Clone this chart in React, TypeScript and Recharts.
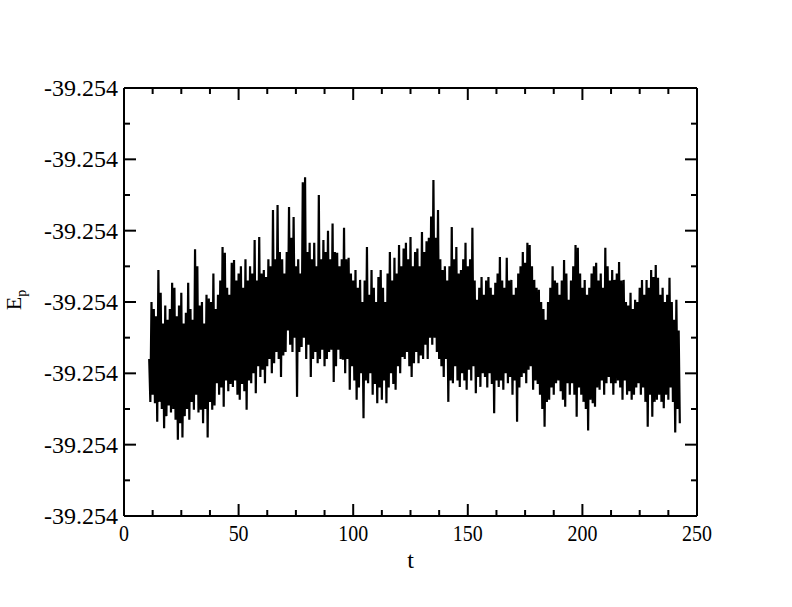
import { Label, Line, LineChart, XAxis, YAxis } from "recharts";

// potential energy trace, sampled every half time unit from t = 11
const T_START = 11;
const T_STEP = 0.5;
const EP = [
  2.2, 1.6, 3.0, 1.7, 2.9, 1.58, 2.8, 1.32, 3.45, 1.6, 3.13, 1.5, 2.7, 1.23, 2.95, 1.4, 2.75, 1.55, 2.9, 1.45,
  3.27, 1.5, 3.2, 1.35, 2.8, 1.07, 2.95, 1.3, 3.13, 1.1, 2.7, 1.4, 2.85, 1.5, 3.27, 1.35, 2.9, 1.6, 2.75, 1.49,
  3.74, 1.7, 3.5, 1.45, 2.95, 1.49, 3.0, 1.3, 2.7, 1.5, 3.1, 1.1, 3.05, 1.6, 3.0, 1.49, 3.4, 1.55, 2.9, 1.86,
  3.1, 1.7, 3.3, 1.8, 3.77, 1.53, 3.69, 1.9, 3.2, 1.75, 3.1, 1.85, 3.55, 1.81, 3.59, 1.9, 3.3, 1.7, 3.4, 1.63,
  3.5, 1.85, 3.2, 1.75, 3.6, 1.49, 3.3, 1.9, 3.5, 1.86, 3.4, 2.0, 3.87, 1.72, 3.3, 2.1, 3.91, 1.95, 3.4, 2.05,
  3.45, 1.86, 3.35, 2.1, 3.6, 2.2, 3.5, 2.0, 4.29, 2.14, 3.6, 2.3, 4.36, 2.2, 3.7, 1.95, 3.6, 2.25, 3.4, 2.3,
  3.7, 2.6, 4.33, 2.4, 3.9, 2.3, 4.19, 2.5, 3.5, 1.67, 3.6, 2.3, 3.4, 2.37, 4.68, 2.5, 4.75, 2.2, 3.7, 2.4,
  3.83, 1.95, 3.6, 2.2, 3.83, 2.3, 3.5, 2.14, 4.5, 2.2, 3.6, 2.33, 3.87, 2.1, 3.7, 2.2, 4.0, 2.3, 3.6, 2.33,
  4.1, 1.88, 3.7, 2.1, 3.69, 2.33, 3.5, 2.2, 3.6, 2.19, 4.04, 2.0, 3.6, 2.2, 3.62, 1.77, 3.4, 2.1, 3.3, 1.9,
  3.45, 1.63, 3.2, 1.8, 3.31, 2.0, 3.0, 1.37, 3.3, 1.9, 3.77, 1.86, 3.1, 2.0, 3.45, 1.7, 3.2, 1.85, 3.0, 1.58,
  3.35, 1.8, 3.45, 1.63, 3.2, 1.9, 3.0, 1.58, 3.4, 1.8, 3.7, 2.0, 3.3, 1.85, 3.62, 1.77, 3.4, 2.1, 3.8, 2.0,
  3.5, 2.23, 3.75, 2.2, 3.83, 2.3, 3.6, 2.1, 3.91, 1.95, 3.5, 2.14, 3.7, 2.3, 3.75, 2.14, 3.5, 2.25, 3.98, 2.2,
  3.7, 2.4, 3.85, 2.2, 3.9, 2.5, 4.2, 2.4, 4.71, 2.5, 3.9, 2.3, 4.29, 2.2, 3.6, 2.1, 3.45, 1.95, 3.5, 2.2,
  3.3, 1.6, 3.5, 1.9, 4.05, 1.86, 3.6, 2.1, 3.77, 1.9, 3.4, 1.81, 3.45, 2.0, 3.6, 1.9, 3.83, 1.77, 3.5, 2.05,
  3.6, 1.9, 4.04, 2.1, 3.3, 1.72, 3.03, 1.95, 3.2, 1.81, 3.35, 2.0, 3.1, 1.95, 3.3, 1.8, 3.35, 2.0, 3.2, 1.85,
  3.1, 1.44, 3.27, 1.9, 3.4, 1.81, 3.63, 1.9, 3.3, 1.77, 3.2, 2.0, 3.62, 1.86, 3.3, 1.95, 3.31, 1.7, 3.1, 1.9,
  3.2, 1.32, 3.4, 1.8, 3.5, 1.95, 3.7, 2.0, 3.55, 1.86, 3.83, 2.05, 3.8, 2.1, 3.5, 1.77, 3.31, 1.9, 3.2, 1.85,
  3.17, 1.7, 3.0, 1.5, 2.9, 1.25, 2.75, 1.6, 3.0, 1.63, 3.2, 1.8, 3.5, 1.7, 3.3, 1.86, 3.27, 1.9, 3.1, 1.75,
  3.3, 1.63, 3.59, 1.53, 3.4, 1.86, 3.03, 1.7, 3.3, 1.86, 3.5, 1.7, 3.8, 1.39, 3.76, 1.8, 3.4, 1.7, 3.2, 1.6,
  3.31, 1.5, 3.1, 1.2, 3.2, 1.63, 3.4, 1.58, 3.5, 1.53, 3.55, 1.8, 3.3, 1.77, 3.4, 1.9, 3.2, 1.7, 3.76, 1.86,
  3.5, 1.95, 3.3, 1.86, 3.45, 1.7, 3.31, 1.86, 3.4, 1.9, 3.56, 1.8, 3.3, 1.63, 3.31, 1.9, 3.0, 1.7, 2.95, 1.75,
  3.13, 1.63, 2.9, 1.7, 3.03, 1.8, 3.0, 1.86, 3.2, 1.7, 3.31, 1.8, 3.1, 1.6, 3.31, 1.25, 3.2, 1.7, 3.45, 1.39,
  3.35, 1.6, 3.52, 1.63, 3.34, 1.7, 3.1, 1.6, 3.2, 1.51, 3.0, 1.7, 3.1, 1.63, 3.34, 1.8, 3.0, 1.6, 2.75, 1.17,
  3.03, 1.5, 2.6, 1.3,
];

const X_TICKS = [0, 12.5, 25, 37.5, 50, 62.5, 75, 87.5, 100, 112.5, 125, 137.5, 150, 162.5, 175, 187.5, 200, 212.5, 225, 237.5, 250];
const X_MAJOR = [0, 50, 100, 150, 200, 250];
const Y_TICKS = [0, 0.5, 1, 1.5, 2, 2.5, 3, 3.5, 4, 4.5, 5, 5.5, 6];
const Y_MAJOR = [0, 1, 2, 3, 4, 5, 6];
const Y_TICK_LABEL = "-39.254";

const data = EP.map((ep, i) => ({ t: T_START + i * T_STEP, ep }));

const FONT = "'Liberation Serif', 'DejaVu Serif', serif";
const textStyle = { fontFamily: FONT };
const MAJOR_LEN = 12;
const MINOR_LEN = 6;

function BottomTick({ x, y, payload }: any) {
  const major = X_MAJOR.includes(payload.value);
  return (
    <g>
      <line x1={x} x2={x} y1={y} y2={y - (major ? MAJOR_LEN : MINOR_LEN)} stroke="#000" strokeWidth={2} />
      {major && (
        <text
          transform={`translate(${x},${y + 25}) scale(0.83,1)`}
          textAnchor="middle"
          style={textStyle}
          fontSize={24}
          fill="#000"
        >
          {payload.value}
        </text>
      )}
    </g>
  );
}

function TopTick({ x, y, payload }: any) {
  const major = X_MAJOR.includes(payload.value);
  return <line x1={x} x2={x} y1={y} y2={y + (major ? MAJOR_LEN : MINOR_LEN)} stroke="#000" strokeWidth={2} />;
}

function LeftTick({ x, y, payload }: any) {
  const major = Y_MAJOR.includes(payload.value);
  return (
    <g>
      <line x1={x} x2={x + (major ? MAJOR_LEN : MINOR_LEN)} y1={y} y2={y} stroke="#000" strokeWidth={2} />
      {major && (
        <text x={x - 6} y={y + 8} textAnchor="end" style={textStyle} fontSize={24} fill="#000">
          {Y_TICK_LABEL}
        </text>
      )}
    </g>
  );
}

function RightTick({ x, y, payload }: any) {
  const major = Y_MAJOR.includes(payload.value);
  return <line x1={x} x2={x - (major ? MAJOR_LEN : MINOR_LEN)} y1={y} y2={y} stroke="#000" strokeWidth={2} />;
}

function YTitle({ viewBox }: any) {
  const cx = viewBox.x + 7;
  const cy = viewBox.y + viewBox.height / 2 - 2;
  return (
    <text transform={`translate(${cx},${cy}) rotate(-90)`} textAnchor="middle" style={textStyle} fontSize={22} fill="#000">
      E<tspan fontSize={14} dy={5}>p</tspan>
    </text>
  );
}

function XTitle({ viewBox }: any) {
  const cx = viewBox.x + viewBox.width / 2;
  return (
    <text x={cx} y={viewBox.y + 52} textAnchor="middle" style={textStyle} fontSize={24} fill="#000">
      t
    </text>
  );
}

const axisLine = { stroke: "#000", strokeWidth: 2 };

export default function App() {
  return (
    <div style={{ position: "absolute", left: 0, top: 0, background: "#fff" }}>
      <LineChart width={792} height={607} data={data} margin={{ top: 87, right: 94, bottom: 31, left: 14 }}>
        <XAxis
          xAxisId="top"
          orientation="top"
          dataKey="t"
          type="number"
          domain={[0, 250]}
          ticks={X_TICKS}
          allowDataOverflow
          height={1}
          tickSize={0}
          tickMargin={0}
          tick={TopTick}
          axisLine={axisLine}
          interval={0}
        />
        <XAxis
          xAxisId="bottom"
          dataKey="t"
          type="number"
          domain={[0, 250]}
          ticks={X_TICKS}
          allowDataOverflow
          height={60}
          tickSize={0}
          tickMargin={0}
          tick={BottomTick}
          axisLine={axisLine}
          interval={0}
        >
          <Label content={XTitle} />
        </XAxis>
        <YAxis
          yAxisId="right"
          orientation="right"
          type="number"
          domain={[0, 6]}
          ticks={Y_TICKS}
          allowDataOverflow
          width={1}
          tickSize={0}
          tickMargin={0}
          tick={RightTick}
          axisLine={axisLine}
          interval={0}
        />
        <YAxis
          yAxisId="left"
          type="number"
          domain={[0, 6]}
          ticks={Y_TICKS}
          allowDataOverflow
          width={110}
          tickSize={0}
          tickMargin={0}
          tick={LeftTick}
          axisLine={axisLine}
          interval={0}
        >
          <Label content={YTitle} />
        </YAxis>
        <Line
          xAxisId="bottom"
          yAxisId="left"
          type="linear"
          dataKey="ep"
          stroke="#000"
          strokeWidth={2.2}
          dot={false}
          isAnimationActive={false}
        />
      </LineChart>
    </div>
  );
}
